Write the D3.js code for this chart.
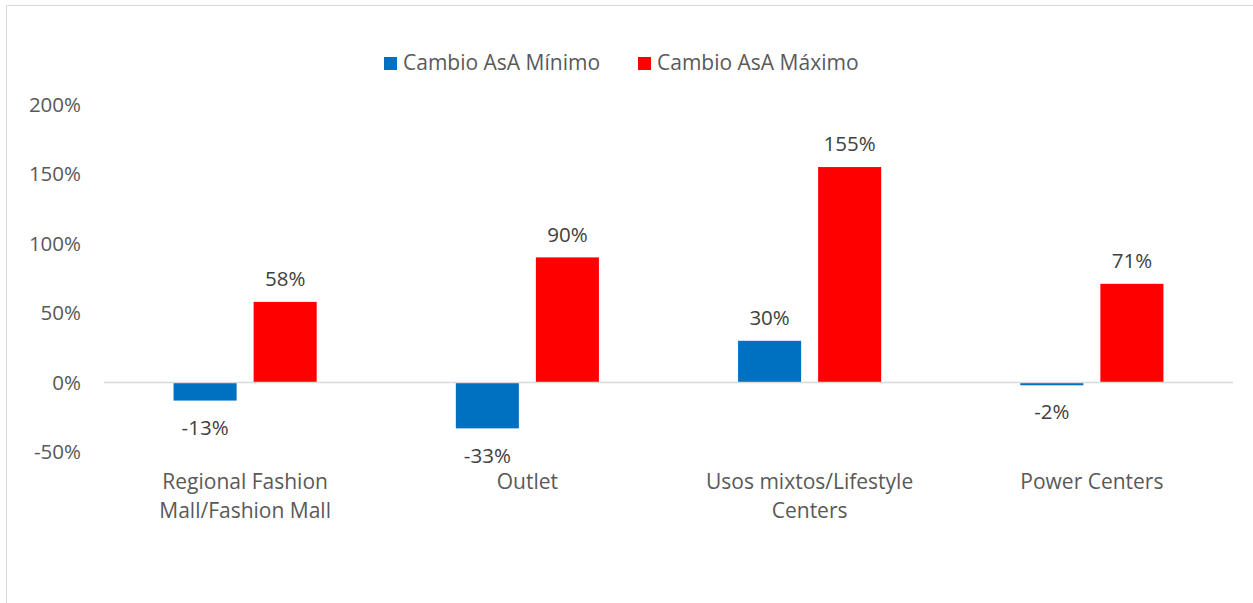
<!DOCTYPE html>
<html lang="es">
<head>
<meta charset="UTF-8">
<title>Cambio AsA</title>
<script src="https://cdnjs.cloudflare.com/ajax/libs/d3/7.8.5/d3.min.js"></script>
<style>
  body { margin: 0; background: #fff; }
  text { font-family: "Open Sans", "Noto Sans", sans-serif; }
</style>
</head>
<body>
<svg id="chart" width="1253" height="603"></svg>
<script>
// data
var categories = [["Regional Fashion", "Mall/Fashion Mall"], ["Outlet"], ["Usos mixtos/Lifestyle", "Centers"], ["Power Centers"]];
var seriesNames = ["Cambio AsA Mínimo", "Cambio AsA Máximo"];
var minimo = [-13, -33, 30, -2];
var maximo = [58, 90, 155, 71];
var yTicks = [-50, 0, 50, 100, 150, 200];
var colors = ["#0070C0", "#FF0000"];

var svg = d3.select("#chart"),
    width = +svg.attr("width"),
    height = +svg.attr("height");

// chart frame
svg.append("rect")
    .attr("x", 6.5).attr("y", 5.5)
    .attr("width", width + 10).attr("height", height + 10)
    .attr("fill", "none").attr("stroke", "#d9d9d9");

var margin = {left: 104, right: 20, top: 105, bottom: 151};
var x0 = d3.scaleBand()
    .domain(d3.range(categories.length))
    .range([margin.left, 1233])
    .paddingInner(0.493).paddingOuter(0.2465);
var x1 = d3.scaleBand()
    .domain([0, 1])
    .range([0, x0.bandwidth()])
    .paddingInner(0.2125);
var y = d3.scaleLinear()
    .domain([-50, 200])
    .range([452, 104.5]);

// y tick labels
svg.append("g").selectAll("text")
    .data(yTicks).enter().append("text")
    .attr("x", 81).attr("y", function(d) { return y(d); })
    .attr("dy", "0.35em")
    .attr("text-anchor", "end")
    .attr("fill", "#595959")
    .style("font-size", "20.5px")
    .text(function(d) { return d + "%"; });

var rows = categories.map(function(c, i) {
    return {i: i, vals: [minimo[i], maximo[i]]};
});

var groups = svg.append("g").selectAll("g")
    .data(rows).enter().append("g")
    .attr("transform", function(d) { return "translate(" + x0(d.i) + ",0)"; });

groups.selectAll("rect")
    .data(function(d) { return d.vals.map(function(v, k) { return {k: k, v: v}; }); })
    .enter().append("rect")
    .attr("x", function(d) { return x1(d.k); })
    .attr("width", x1.bandwidth())
    .attr("y", function(d) { return y(Math.max(0, d.v)); })
    .attr("height", function(d) { return Math.abs(y(d.v) - y(0)); })
    .attr("fill", function(d) { return colors[d.k]; });

groups.selectAll("text.val")
    .data(function(d) { return d.vals.map(function(v, k) { return {k: k, v: v}; }); })
    .enter().append("text")
    .attr("class", "val")
    .attr("x", function(d) { return x1(d.k) + x1.bandwidth() / 2; })
    .attr("y", function(d) { return d.v >= 0 ? y(d.v) - 23 : y(d.v) + 27; })
    .attr("dy", "0.35em")
    .attr("text-anchor", "middle")
    .attr("fill", "#404040")
    .style("font-size", "20.5px")
    .text(function(d) { return d.v + "%"; });

// zero line
svg.append("line")
    .attr("x1", margin.left).attr("x2", 1233)
    .attr("y1", y(0)).attr("y2", y(0))
    .attr("stroke", "#d9d9d9").attr("stroke-width", 1.5);

// category labels
svg.append("g").selectAll("text")
    .data(categories).enter().append("text")
    .attr("x", function(d, i) { return x0(i) + x0.bandwidth() / 2; })
    .attr("y", 489)
    .attr("text-anchor", "middle")
    .attr("fill", "#595959")
    .style("font-size", "21px")
    .each(function(d) {
        var t = d3.select(this);
        d.forEach(function(line, j) {
            t.append("tspan")
                .attr("x", t.attr("x"))
                .attr("dy", j === 0 ? 0 : 29)
                .text(line);
        });
    });

// legend
var legend = svg.append("g");
var legendX = [384, 638];
seriesNames.forEach(function(name, k) {
    legend.append("rect")
        .attr("x", legendX[k]).attr("y", 57)
        .attr("width", 13).attr("height", 13)
        .attr("fill", colors[k]);
    legend.append("text")
        .attr("x", legendX[k] + 19).attr("y", 63)
        .attr("dy", "0.35em")
        .attr("fill", "#595959")
        .style("font-size", "21px")
        .text(name);
});
</script>
</body>
</html>
